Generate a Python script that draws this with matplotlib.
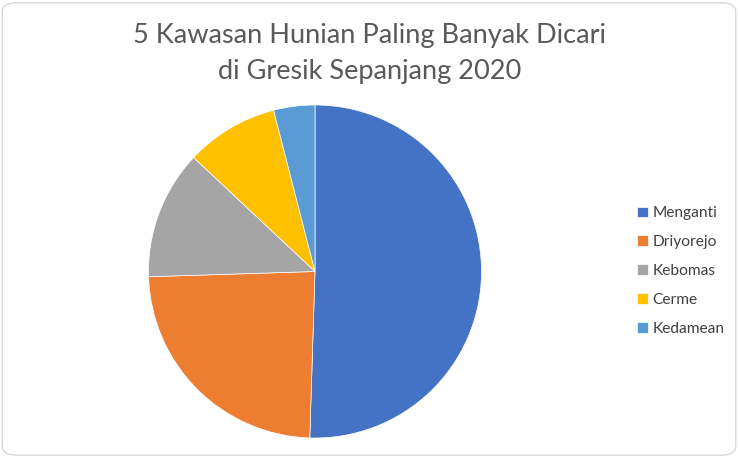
import matplotlib
matplotlib.use("Agg")
import matplotlib.pyplot as plt
from matplotlib.patches import FancyBboxPatch

# data (share of searches, %)
areas = ["Menganti", "Driyorejo", "Kebomas", "Cerme", "Kedamean"]
shares = [50.5, 24.0, 12.5, 9.0, 4.0]
colors = ["#4472C4", "#ED7D31", "#A5A5A5", "#FFC000", "#5B9BD5"]

plt.rcParams["font.family"] = ["Lato", "DejaVu Sans"]

W, H = 738, 457
fig = plt.figure(figsize=(W / 100, H / 100), dpi=100)

# chart border
border = FancyBboxPatch((0.003, 0.004), 0.994, 0.99,
                        boxstyle="round,pad=0,rounding_size=0.02",
                        transform=fig.transFigure, facecolor="none",
                        edgecolor="#D9D9D9", linewidth=1.0, zorder=5)
fig.patches.append(border)

cx, cy, r = 315, 271.5, 166.5
ax = fig.add_axes([(cx - r) / W, (H - cy - r) / H, 2 * r / W, 2 * r / H])
wedges, _ = ax.pie(shares, colors=colors, startangle=90, counterclock=False,
                   radius=1.0, wedgeprops=dict(edgecolor="white", linewidth=0.5))
ax.set_xlim(-1, 1)
ax.set_ylim(-1, 1)
ax.set_aspect("equal")
ax.axis("off")

fig.text(370 / W, 1 - 36 / H, "5 Kawasan Hunian Paling Banyak Dicari",
         ha="center", va="center", fontsize=19.5, color="#595959")
fig.text(370 / W, 1 - 71 / H, "di Gresik Sepanjang 2020",
         ha="center", va="center", fontsize=19.5, color="#595959")

fig.legend(wedges, areas, loc="center left",
           bbox_to_anchor=(623 / W, 1 - 271 / H), frameon=False,
           fontsize=11.2, handlelength=0.7, handleheight=0.7,
           handletextpad=0.3, labelspacing=0.95, labelcolor="#404040")

fig.savefig("out.png", dpi=100)
